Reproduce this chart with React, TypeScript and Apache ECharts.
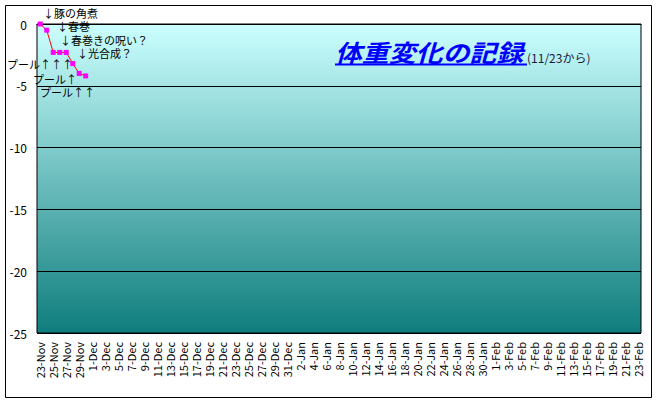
import { useEffect, useRef } from 'react';
import * as echarts from 'echarts';

// ── Data ──
const MONTHS: [string, number, number][] = [
  ['Nov', 23, 30],
  ['Dec', 1, 31],
  ['Jan', 1, 31],
  ['Feb', 1, 23],
];
const DAYS: string[] = [];
for (const [m, from, to] of MONTHS) {
  for (let d = from; d <= to; d++) DAYS.push(`${d}-${m}`);
}

// 体重の変化 (kg), 23-Nov .. 30-Nov
const WEIGHT_CHANGE = [0, -0.5, -2.3, -2.3, -2.3, -3.2, -4.0, -4.2];

const Y_MIN = -25;
const Y_MAX = 0;
const Y_STEP = 5;

const TITLE = '体重変化の記録';
const SUBTITLE = '(11/23から)';

// 注釈 (text, x, y)
const NOTES: [string, number, number][] = [
  ['↓豚の角煮', 43, 13],
  ['↓春巻', 57, 26],
  ['↓春巻きの呪い？', 60, 40],
  ['↓光合成？', 77, 53],
  ['プール↑↑↑', 7, 64],
  ['プール↑', 33, 79],
  ['プール↑↑', 40, 92],
];

const FONT = '"Noto Sans CJK JP", "Noto Sans", sans-serif';

export default function App() {
  const ref = useRef<HTMLDivElement>(null);

  useEffect(() => {
    if (!ref.current) return;
    const chart = echarts.init(ref.current, undefined, { renderer: 'svg' });

    const series = DAYS.map((_, i) => (i < WEIGHT_CHANGE.length ? WEIGHT_CHANGE[i] : null));

    chart.setOption({
      animation: false,
      backgroundColor: '#ffffff',
      textStyle: { fontFamily: FONT },
      grid: {
        left: 37,
        right: 17,
        top: 24,
        bottom: 70,
        show: true,
        borderColor: '#000',
        borderWidth: 1,
        backgroundColor: new echarts.graphic.LinearGradient(0, 0, 0, 1, [
          { offset: 0, color: '#ccffff' },
          { offset: 1, color: '#0f7d7d' },
        ]),
      },
      xAxis: {
        type: 'category',
        data: DAYS,
        boundaryGap: true,
        axisLine: { lineStyle: { color: '#000' } },
        axisTick: { show: false },
        axisLabel: {
          rotate: 90,
          interval: 1,
          margin: 9,
          color: '#000',
          fontSize: 11,
          fontFamily: FONT,
        },
        splitLine: { show: false },
      },
      yAxis: {
        type: 'value',
        min: Y_MIN,
        max: Y_MAX,
        interval: Y_STEP,
        axisLine: { show: false },
        axisTick: { show: false },
        axisLabel: { color: '#000', fontSize: 12, margin: 10, fontFamily: FONT },
        splitLine: { lineStyle: { color: '#000', width: 1 } },
      },
      series: [
        {
          type: 'line',
          data: series,
          symbol: 'rect',
          symbolSize: 5,
          showAllSymbol: true,
          itemStyle: { color: '#ff00ff', borderWidth: 0 },
          lineStyle: { color: '#ff0000', width: 1 },
          connectNulls: false,
        },
      ],
      graphic: [
        {
          type: 'rect',
          shape: { x: 5.5, y: 5.5, width: 646, height: 392 },
          style: { fill: 'none', stroke: '#000', lineWidth: 1 },
          silent: true,
        },
        {
          type: 'text',
          x: 335,
          y: 63,
          scaleX: 1.12,
          style: {
            text: TITLE,
            fill: '#0000ff',
            font: `italic bold 24px ${FONT}`,
            textVerticalAlign: 'bottom',
          },
        },
        {
          type: 'line',
          shape: { x1: 335, y1: 64.5, x2: 527, y2: 64.5 },
          style: { stroke: '#0000ff', lineWidth: 2 },
        },
        {
          type: 'text',
          x: 527,
          y: 63,
          style: {
            text: SUBTITLE,
            fill: '#1a1a40',
            font: `12px ${FONT}`,
            textVerticalAlign: 'bottom',
          },
        },
        ...NOTES.map(([t, x, y]) => ({
          type: 'text',
          x,
          y,
          style: {
            text: t,
            fill: '#000',
            font: `11px ${FONT}`,
            textVerticalAlign: 'middle',
          },
        })),
      ],
    });

    return () => chart.dispose();
  }, []);

  return (
    <div
      ref={ref}
      style={{ position: 'absolute', left: 0, top: 0, width: 658, height: 403 }}
    />
  );
}
